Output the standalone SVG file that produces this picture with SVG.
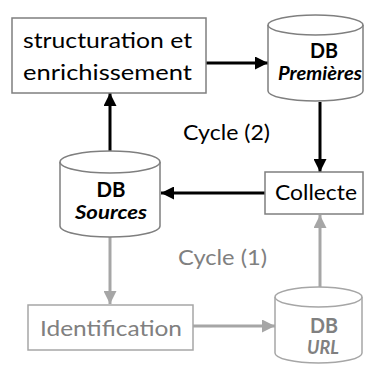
<svg xmlns="http://www.w3.org/2000/svg" width="365" height="365" viewBox="0 0 365 365">
<style>
.box{fill:#fff;stroke:#7f7f7f;stroke-width:1.5}
.gbox{fill:#fff;stroke:#a6a6a6;stroke-width:1.5}
.t{font-family:Lato,"Open Sans",sans-serif;font-size:22px;fill:#000}
.gt{font-family:Lato,"Open Sans",sans-serif;font-size:22px;fill:#808080}
.db{font-family:Lato,"Open Sans",sans-serif;font-size:21px;font-weight:bold;text-anchor:middle}
.sub{font-family:Lato,"Open Sans",sans-serif;font-size:18px;font-weight:bold;font-style:italic;text-anchor:middle}
.k{stroke:#000;stroke-width:3;fill:none}
.g{stroke:#a6a6a6;stroke-width:3;fill:none}
</style>
<defs>
<marker id="ak" viewBox="0 0 10 10" refX="10" refY="5" markerWidth="13" markerHeight="13" markerUnits="userSpaceOnUse" orient="auto"><path d="M0,0L10,5L0,10z" fill="#000"/></marker>
<marker id="ag" viewBox="0 0 10 10" refX="10" refY="5" markerWidth="13" markerHeight="13" markerUnits="userSpaceOnUse" orient="auto"><path d="M0,0L10,5L0,10z" fill="#a6a6a6"/></marker>
</defs>
<g id="connectors">
<line class="k" x1="206" y1="63" x2="268" y2="63" marker-end="url(#ak)"/>
<line class="k" x1="320" y1="102" x2="320" y2="172" marker-end="url(#ak)"/>
<line class="k" x1="265" y1="193" x2="161" y2="193" marker-end="url(#ak)"/>
<line class="k" x1="110" y1="151" x2="110" y2="93" marker-end="url(#ak)"/>
<line class="g" x1="110" y1="237" x2="110" y2="304" marker-end="url(#ag)"/>
<line class="g" x1="193" y1="326" x2="275" y2="326" marker-end="url(#ag)"/>
<line class="g" x1="320" y1="287" x2="320" y2="215" marker-end="url(#ag)"/>
</g>
<g id="structuration">
<rect class="box" x="12" y="18" width="194" height="75"/>
<text class="t" x="23" y="48" textLength="169" lengthAdjust="spacingAndGlyphs">structuration et</text>
<text class="t" x="23" y="80" textLength="169" lengthAdjust="spacingAndGlyphs">enrichissement</text>
</g>
<g id="db-premieres">
<path class="box" d="M268,25A47.5,10 0 0,1 363,25L363,91A47.5,10 0 0,1 268,91Z"/>
<path class="box" d="M268,25A47.5,10 0 0,0 363,25"/>
<text class="db" x="324" y="58" textLength="28" lengthAdjust="spacingAndGlyphs">DB</text>
<text class="sub" x="320" y="80" font-size="17" textLength="84" lengthAdjust="spacingAndGlyphs">Premières</text>
</g>
<g id="collecte">
<rect class="box" x="265" y="172" width="98" height="42"/>
<text class="t" x="275" y="200" textLength="82" lengthAdjust="spacingAndGlyphs">Collecte</text>
</g>
<g id="db-sources">
<path class="box" d="M60,162A50,11 0 0,1 160,162L160,226A50,11 0 0,1 60,226Z"/>
<path class="box" d="M60,162A50,11 0 0,0 160,162"/>
<text class="db" x="111" y="197" textLength="29" lengthAdjust="spacingAndGlyphs">DB</text>
<text class="sub" x="111" y="219" textLength="72" lengthAdjust="spacingAndGlyphs">Sources</text>
</g>
<g id="identification">
<rect class="gbox" x="28" y="305" width="165" height="45"/>
<text class="gt" x="40" y="336" textLength="142" lengthAdjust="spacingAndGlyphs">Identification</text>
</g>
<g id="db-url">
<path class="gbox" d="M275,297A43.5,10 0 0,1 362,297L362,353A43.5,10 0 0,1 275,353Z"/>
<path class="gbox" d="M275,297A43.5,10 0 0,0 362,297"/>
<text class="db" x="324" y="333" fill="#808080" textLength="28" lengthAdjust="spacingAndGlyphs">DB</text>
<text class="sub" x="323" y="354" fill="#808080">URL</text>
</g>
<g id="labels">
<text class="t" x="183" y="140" textLength="87" lengthAdjust="spacingAndGlyphs">Cycle (2)</text>
<text class="gt" x="178" y="265" textLength="89" lengthAdjust="spacingAndGlyphs">Cycle (1)</text>
</g>
</svg>
